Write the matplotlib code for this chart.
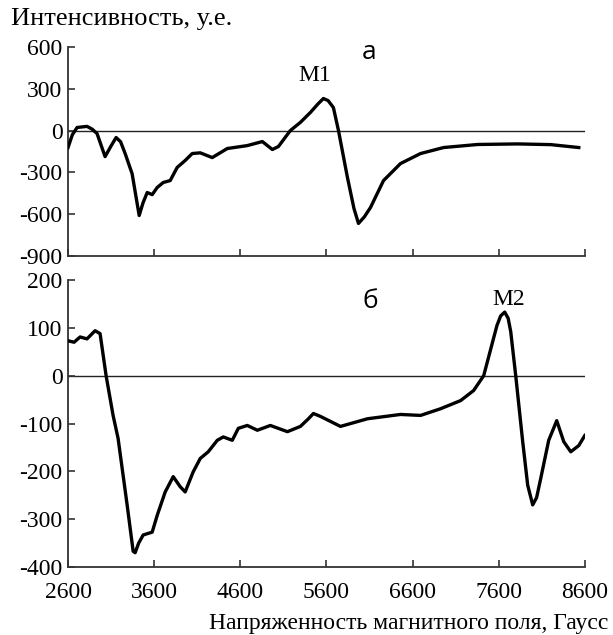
import numpy as np
import matplotlib.pyplot as plt

# Спектр (а): напряженность поля, Гаусс -> интенсивность, у.е.
field_a = [2600, 2650, 2705, 2820, 2880, 2937, 3030, 3100, 3158, 3210, 3263, 3344,
           3426, 3470, 3519, 3577, 3635, 3705, 3786, 3867, 3960, 4042, 4135, 4274,
           4449, 4681, 4856, 4972, 5042, 5181, 5300, 5414, 5500, 5565, 5620, 5681,
           5740, 5844, 5920, 5972, 6040, 6112, 6263, 6460, 6693, 6960, 7356, 7821,
           8205, 8530]
signal_a = [-122, -30, 22, 30, 10, -22, -187, -110, -50, -80, -165, -310,
            -610, -520, -445, -460, -409, -373, -359, -265, -215, -165, -160, -194,
            -129, -108, -79, -136, -115, 0, 60, 130, 190, 230, 215, 165,
            0, -337, -560, -667, -620, -552, -359, -237, -165, -122, -100, -96,
            -101, -122]

# Спектр (б)
field_b = [2600, 2670, 2740, 2820, 2914, 2972, 3042, 3123, 3181, 3286, 3356, 3379,
           3420, 3472, 3577, 3635, 3728, 3821, 3902, 3960, 4053, 4135, 4228, 4333,
           4402, 4507, 4577, 4681, 4798, 4949, 5147, 5298, 5391, 5449, 5530, 5763,
           6077, 6460, 6693, 6926, 7158, 7309, 7426, 7530, 7580, 7623, 7670, 7710,
           7740, 7798, 7879, 7937, 7995, 8040, 8088, 8181, 8274, 8356, 8437, 8530,
           8600]
signal_b = [73, 70, 81, 77, 94, 88, 0, -83, -131, -270, -367, -370,
            -350, -333, -327, -292, -243, -211, -232, -243, -201, -173, -159, -135,
            -128, -135, -110, -104, -114, -104, -117, -106, -90, -79, -85, -106,
            -90, -81, -83, -69, -52, -31, 0, 71, 105, 125, 133, 120,
            92, 0, -138, -229, -270, -255, -215, -135, -94, -138, -159, -146,
            -125]

ticks_x = [2600, 3600, 4600, 5600, 6600, 7600, 8600]
ticks_a = [600, 300, 0, -300, -600, -900]
ticks_b = [200, 100, 0, -100, -200, -300, -400]

plt.rcParams['font.family'] = ['Liberation Serif', 'DejaVu Serif']

fig = plt.figure(figsize=(6.13, 6.35), dpi=100)
ax1 = fig.add_axes([0.111, 0.597, 0.843, 0.329])
ax2 = fig.add_axes([0.111, 0.107, 0.843, 0.452])


def style_axes(ax, yticks, show_xlabels):
    for s in ['top', 'right']:
        ax.spines[s].set_visible(False)
    for s in ['left', 'bottom']:
        ax.spines[s].set_linewidth(1.3)
        ax.spines[s].set_color('#333333')
    ax.set_xlim(2600, 8600)
    ax.set_ylim(yticks[-1], yticks[0])
    ax.set_xticks(ticks_x)
    ax.set_yticks(yticks)
    ax.tick_params(direction='in', length=5, width=1.2, color='#333333',
                   labelsize=17)
    ax.tick_params(axis='y', pad=4)
    ax.tick_params(axis='x', pad=11)
    if not show_xlabels:
        ax.tick_params(labelbottom=False)
    ax.set_yticklabels(['%d' % t for t in yticks])
    ax.axhline(0, color='#222222', lw=1.0, zorder=1)


style_axes(ax1, ticks_a, False)
ax1.plot(field_a, signal_a, color='black', lw=2.4, zorder=3)
ax1.text(5460, 395, 'M1', fontsize=17, ha='center', va='center')
ax1.text(6090, 560, 'а', fontsize=19, ha='center', va='center', family='Open Sans')

style_axes(ax2, ticks_b, True)
ax2.plot(field_b, signal_b, color='black', lw=2.4, zorder=3)
ax2.text(7717, 160, 'M2', fontsize=17, ha='center', va='center')
ax2.text(6112, 156, 'б', fontsize=19, ha='center', va='center', family='Open Sans')

fig.text(0.018, 0.953, 'Интенсивность, у.е.', fontsize=19, ha='left', va='bottom')
fig.text(0.993, 0.002, 'Напряженность магнитного поля, Гаусс', fontsize=17,
         ha='right', va='bottom')

fig.savefig('out.png', dpi=100, facecolor='white')
